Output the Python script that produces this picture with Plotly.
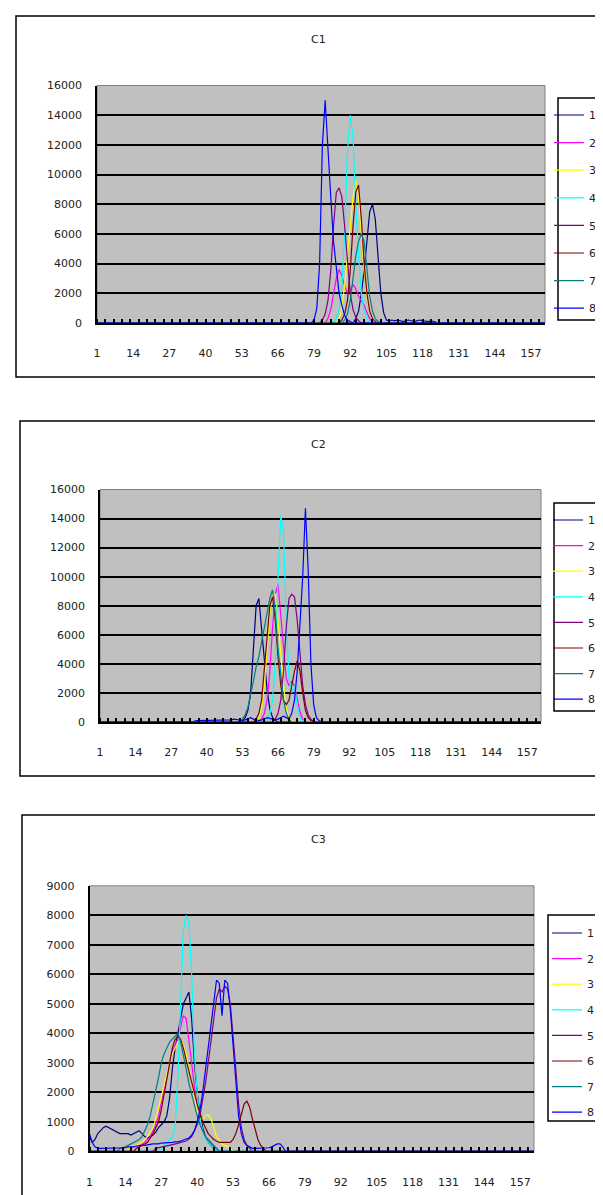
import plotly.graph_objects as go

# ---------------- data ----------------
N = 162
categories = list(range(1, N + 1))
x_tick_vals = [1, 14, 27, 40, 53, 66, 79, 92, 105, 118, 131, 144, 157]
x_tick_labels = ["1", "14", "27", "40", "53", "66", "79", "92", "105", "118", "131", "144", "157"]
series_names = ["1", "2", "3", "4", "5", "6", "7", "8"]
series_colors = ["#000080", "#FF00FF", "#FFFF00", "#00FFFF",
                 "#800080", "#800000", "#008080", "#0000FF"]

# C1 : first category of each series' non-zero run, then the values
c1_starts = [94, 84, 88, 86, 82, 89, 90, 79]
c1_s1 = [300, 800, 2000, 3500, 5500, 7500, 8000, 7000, 4500, 2000, 700, 200,
         150, 200, 150, 200, 150, 100, 150, 200, 150, 100, 150, 200, 150, 100, 100, 150, 100]
c1_s2 = [300, 900, 2000, 3000, 3600, 3200, 2500, 2000, 2200, 2600, 2300, 1800, 1500, 1200, 700, 300, 100]
c1_s3 = [300, 1000, 2500, 4500, 6500, 8500, 9600, 8500, 6000, 3500, 1800, 800, 300, 100]
c1_s4 = [100, 300, 900, 2500, 6000, 11500, 14000, 12500, 8000, 4500, 2000, 800, 300, 100]
c1_s5 = [200, 600, 1500, 3500, 6500, 8800, 9100, 8500, 6500, 4000, 2000, 900, 400, 150]
c1_s6 = [200, 600, 1500, 3500, 6500, 8800, 9300, 7000, 4000, 2000, 800, 300, 100]
c1_s7 = [200, 600, 1500, 3000, 4500, 5500, 6000, 5500, 3500, 1800, 800, 300, 100]
c1_s8 = [200, 1000, 4000, 12000, 15000, 11500, 8500, 5500, 3500, 2000, 1200, 500, 200, 100]

# C2
c2_starts = [53, 60, 59, 62, 65, 58, 53, 36]
c2_s1 = [100, 300, 800, 2000, 5000, 8000, 8500, 6500, 4000, 2200, 900, 300, 100]
c2_s2 = [200, 600, 1500, 3500, 6500, 8800, 9500, 7500, 5000, 3000, 2500, 2800, 2500, 1500, 700, 200]
c2_s3 = [300, 1000, 2500, 5000, 7500, 8700, 8800, 7000, 4500, 2500, 1000, 300, 100]
c2_s4 = [200, 600, 1500, 4000, 10000, 14200, 13000, 7000, 3000, 2000, 2500, 1200, 300, 100]
c2_s5 = [200, 600, 1500, 3500, 6500, 8500, 8800, 8600, 7000, 4500, 2500, 1200, 500, 200]
c2_s6 = [200, 600, 1500, 3500, 6000, 8000, 8600, 7000, 4500, 2500, 1500, 1200, 1500, 2500,
         3500, 4200, 3500, 2000, 800, 300, 100]
c2_s7 = [200, 500, 1000, 1800, 2800, 3800, 4500, 5500, 6500, 7500, 8500, 9100, 7500, 5000,
         3000, 1500, 600, 200]
c2_s8 = [100, 100, 150, 100, 100, 150, 100, 100, 100, 150,
         150, 100, 100, 150, 200, 150, 100, 100, 150, 200,
         300, 200, 150, 100, 150, 200, 300, 250, 200, 150,
         200, 300, 400, 300, 200, 600, 1500, 3500, 7000, 10000,
         14700, 10500, 4000, 1200, 300, 100]

# C3
c3_starts = [1, 15, 15, 28, 25, 18, 12, 1]
c3_s1 = [500, 300, 400, 600, 700, 800, 850, 800, 750, 700,
         650, 600, 600, 600, 600, 550, 600, 650, 700, 600,
         500, 450, 500, 550, 650, 800, 900, 1000, 1200, 1800,
         2800, 3500, 4000, 4500, 5000, 5200, 5400, 4500, 3000, 2000,
         1300, 800, 500, 300, 200, 100]
c3_s2 = [100, 120, 150, 170, 200, 250, 300, 400, 500, 700,
         900, 1200, 1600, 2000, 2500, 3000, 3400, 3600, 3800, 4200,
         4600, 4500, 3800, 3000, 2200, 1500, 1000, 700, 500, 350,
         250, 150, 100]
c3_s3 = [100, 130, 160, 200, 250, 300, 400, 500, 650, 800,
         1100, 1500, 1800, 2200, 2600, 3000, 3300, 3500, 3700, 3800,
         3600, 3300, 2800, 2300, 1800, 1400, 1100, 1100, 1200, 1250,
         1100, 800, 500, 350, 250, 200, 150, 100]
c3_s4 = [200, 300, 400, 500, 800, 2500, 5000, 7500, 8000, 7800,
         6000, 3300, 2000, 1100, 700, 400, 300, 200, 100]
c3_s5 = [100, 120, 130, 150, 170, 200, 220, 250, 270, 300,
         320, 350, 420, 500, 700, 900, 1200, 1700, 2300, 3000,
         3800, 4600, 5200, 5500, 5400, 5600, 5500, 5000, 4000, 2800,
         1600, 800, 400, 200, 100]
c3_s6 = [100, 150, 200, 250, 300, 450, 600, 800, 1000, 1400,
         1900, 2500, 3000, 3500, 3800, 3900, 3800, 3500, 3100, 2700,
         2300, 1900, 1600, 1300, 1000, 800, 600, 500, 400, 350,
         300, 300, 300, 300, 300, 400, 600, 900, 1300, 1600,
         1700, 1500, 1100, 700, 400, 200, 100]
c3_s7 = [100, 120, 150, 200, 250, 300, 350, 400, 500, 700,
         900, 1200, 1600, 2000, 2500, 3000, 3300, 3500, 3700, 3800,
         3900, 4000, 3700, 3300, 2800, 2300, 1900, 1500, 1200, 900,
         700, 500, 400, 300, 200, 100]
c3_s8 = [600, 300, 150, 100, 100, 100, 100, 100, 100, 100,
         100, 100, 120, 120, 150, 150, 150, 180, 200, 200,
         200, 220, 220, 250, 250, 250, 280, 280, 300, 300,
         300, 320, 320, 350, 380, 400, 450, 550, 700, 1000,
         1400, 2000, 2800, 3600, 4400, 5200, 5800, 5700, 4600, 5800,
         5700, 4800, 3500, 2200, 1200, 600, 300, 200, 150, 100,
         100, 100, 100, 100, 100, 120, 150, 200, 250, 250,
         150]

panels = [
    dict(title="C1", starts=c1_starts, series=[c1_s1, c1_s2, c1_s3, c1_s4, c1_s5, c1_s6, c1_s7, c1_s8],
         ymax=16000, dtick=2000),
    dict(title="C2", starts=c2_starts, series=[c2_s1, c2_s2, c2_s3, c2_s4, c2_s5, c2_s6, c2_s7, c2_s8],
         ymax=16000, dtick=2000),
    dict(title="C3", starts=c3_starts, series=[c3_s1, c3_s2, c3_s3, c3_s4, c3_s5, c3_s6, c3_s7, c3_s8],
         ymax=9000, dtick=1000),
]

# ---------------- layout (pixel geometry) ----------------
W, H = 603, 1195
plot_px = [(89, 537, 77.5, 315), (92, 533, 481.5, 714), (81.5, 526, 877.8, 1143.3)]
box_px = [(8, 8, 615, 369), (12, 413, 615, 768), (14, 807, 615, 1205)]
# legend: (entries left x, entries top y, gap between entries)
legend_px = [(541, 92.5, 8.6), (540, 497.5, 6.6), (539, 910.5, 6.6)]
# legend frame: (x0, y0, x1, y1)
legend_box_px = [(550, 90, 600, 312), (546, 495, 604, 703), (540, 907, 599, 1113)]
title_px = [(310, 32), (310, 437), (310, 832)]
FONT = "DejaVu Sans"
FS = 11


def px_x(x):
    return x / W


def px_y(y):
    return 1 - y / H


def expand(start, vals):
    y = [0] * N
    for i, v in enumerate(vals):
        y[start - 1 + i] = v
    return y


fig = go.Figure()
shapes = []
annotations = []
layout_axes = {}

for p, panel in enumerate(panels):
    k = "" if p == 0 else str(p + 1)
    legend_name = "legend" if p == 0 else f"legend{p + 1}"
    for s in range(8):
        fig.add_trace(go.Scatter(
            x=categories, y=expand(panel["starts"][s], panel["series"][s]),
            mode="lines", name=series_names[s],
            line=dict(color=series_colors[s], width=1.2),
            xaxis="x" + k, yaxis="y" + k, legend=legend_name,
            legendgroup=f"p{p}s{s}", showlegend=True,
        ))
    x0, x1, y0, y1 = plot_px[p]
    layout_axes["xaxis" + k] = dict(
        domain=[px_x(x0), px_x(x1)], range=[1, N], anchor="y" + k,
        tickmode="array", tickvals=x_tick_vals, ticktext=x_tick_labels,
        ticks="", showgrid=False, zeroline=False,
        showline=True, linecolor="black", linewidth=2,
        tickfont=dict(family=FONT, size=FS, color="#222"),
        ticklabelstandoff=19,
        minor=dict(tickmode="linear", tick0=1, dtick=3, ticks="inside",
                   ticklen=4, tickwidth=2, tickcolor="black", showgrid=False),
    )
    layout_axes["yaxis" + k] = dict(
        domain=[px_y(y1), px_y(y0)], range=[0, panel["ymax"]], anchor="x" + k,
        dtick=panel["dtick"], tick0=0, ticks="", tickformat="d",
        showgrid=True, gridcolor="black", gridwidth=2, zeroline=False,
        showline=True, linecolor="black", linewidth=1.5,
        tickfont=dict(family=FONT, size=FS, color="#222"),
        ticklabelstandoff=11,
    )
    # plot-area border
    shapes.append(dict(type="rect", xref=f"x{k} domain", yref=f"y{k} domain",
                       x0=0, x1=1, y0=0, y1=1, line=dict(color="#808080", width=1),
                       layer="below"))
    # outer chart box
    bx0, by0, bx1, by1 = box_px[p]
    shapes.append(dict(type="rect", xref="paper", yref="paper",
                       x0=px_x(bx0), x1=px_x(bx1), y0=px_y(by1), y1=px_y(by0),
                       line=dict(color="black", width=1.5)))
    # legend frame
    lbx0, lby0, lbx1, lby1 = legend_box_px[p]
    shapes.append(dict(type="rect", xref="paper", yref="paper",
                       x0=px_x(lbx0), x1=px_x(lbx1), y0=px_y(lby1), y1=px_y(lby0),
                       line=dict(color="black", width=1.5), fillcolor="white"))
    tx, ty = title_px[p]
    annotations.append(dict(text=panel["title"], xref="paper", yref="paper",
                            x=px_x(tx), y=px_y(ty), showarrow=False,
                            xanchor="center", yanchor="middle",
                            font=dict(family=FONT, size=FS, color="#222")))
    lx, ly, gap = legend_px[p]
    layout_axes[legend_name] = dict(
        x=px_x(lx), y=px_y(ly), xanchor="left", yanchor="top",
        bgcolor="rgba(0,0,0,0)", borderwidth=0,
        font=dict(family=FONT, size=FS, color="#222"),
        tracegroupgap=gap, itemwidth=30, traceorder="grouped",
    )

fig.update_layout(
    width=W, height=H, margin=dict(l=0, r=0, t=0, b=0, autoexpand=False),
    paper_bgcolor="white", plot_bgcolor="#C0C0C0",
    shapes=shapes, annotations=annotations, **layout_axes,
)

fig.write_html("out.html")
